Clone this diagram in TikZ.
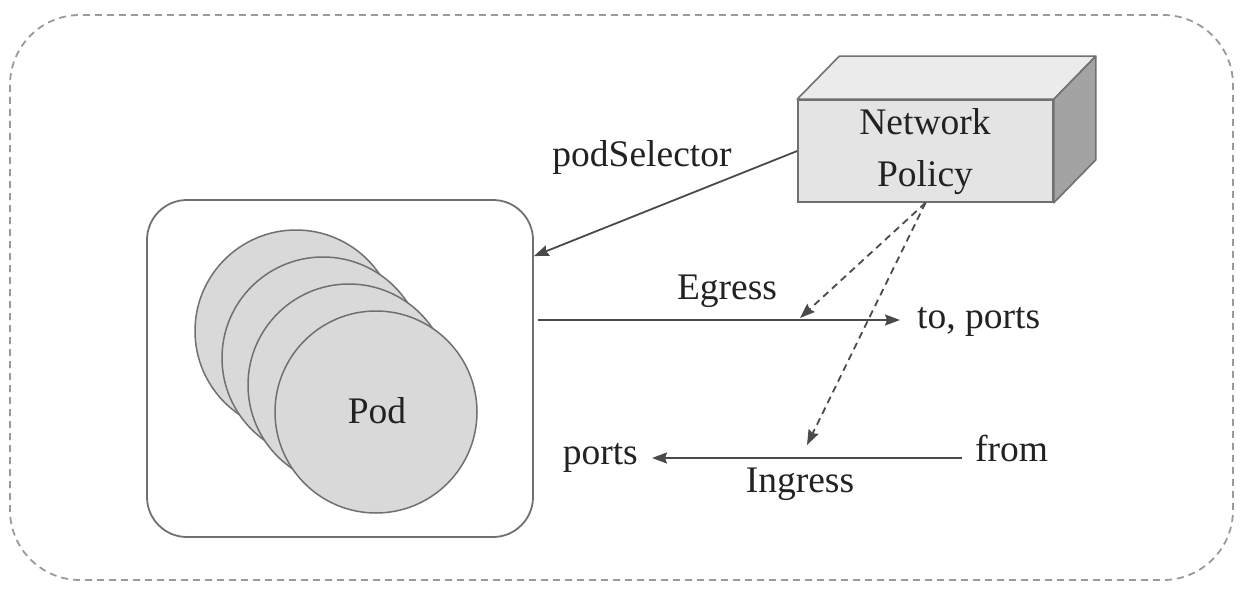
\documentclass[tikz,border=0pt]{standalone}
\usepackage{fontspec}
\setmainfont{Liberation Serif}
\usetikzlibrary{arrows.meta,calc}
\definecolor{linec}{HTML}{4A4A4A}
\definecolor{textc}{HTML}{222222}
\definecolor{podfill}{HTML}{D9D9D9}
\definecolor{podedge}{HTML}{707070}
\definecolor{frontc}{HTML}{E4E4E4}
\definecolor{topc}{HTML}{EBEBEB}
\definecolor{sidec}{HTML}{A3A3A3}
\definecolor{outerc}{HTML}{9A9A9A}
\tikzset{
  lbl/.style={text=textc, inner sep=0pt, font=\fontsize{37.5}{52}\selectfont},
  arr/.style={draw=linec, line width=1.8pt, -{Stealth[length=15pt,width=11pt,inset=2pt]}},
  darr/.style={arr, dash pattern=on 7pt off 5pt},
  podcircle/.style={circle, draw=podedge, fill=podfill, line width=1.5pt, minimum size=202pt, inner sep=0pt},
  facestyle/.style={draw=podedge, line width=1.6pt, line join=round},
}
\begin{document}
\begin{tikzpicture}[x=1pt,y=-1pt]
\useasboundingbox (0,0) rectangle (1244,599);
% outer dashed frame
\draw[outerc, line width=1.8pt, dash pattern=on 7pt off 5pt, rounded corners=70pt] (10,15) rectangle (1233,580);

% pod box
\node[draw=podedge, line width=1.8pt, rounded corners=40pt, minimum width=386pt, minimum height=337pt, inner sep=0pt] (pod) at (340,368.5) {};
\node[podcircle] (c1) at (296,331) {};
\node[podcircle] (c2) at (323,358) {};
\node[podcircle] (c3) at (349,385) {};
\node[podcircle] (c4) at (376,412) {};
\node[lbl] (podtxt) at (377,411) {Pod};

% network policy box
\node[draw=podedge, fill=frontc, line width=1.6pt, minimum width=255pt, minimum height=102pt, inner sep=0pt] (np) at (925.5,151) {};
\fill[topc, facestyle] (np.north west) -- ++(42,-43) -- ($(np.north east)+(42,-43)$) -- (np.north east) -- cycle;
\fill[sidec, facestyle] (np.north east) -- ++(42,-43) -- ($(np.south east)+(42,-43)$) -- (np.south east) -- cycle;
\node[lbl, align=center] (nptxt) at (925,152) {Network\\Policy};

% labels
\node[lbl] (sel) at (642,157) {podSelector};
\node[lbl] (egr) at (727,291) {Egress};
\node[lbl, anchor=west] (toports) at (917,322) {to, ports};
\node[lbl] (ingr) at (800,484) {Ingress};
\node[lbl, anchor=east] (ports) at (638,458) {ports};
\node[lbl, anchor=west] (from) at (975,448) {from};

% connectors
\coordinate (selend) at ($(pod.north east)+(0,57)$);
\draw[arr] (np.west) -- (selend);
\coordinate (egstart) at (538,320);
\coordinate (egend) at (900,320);
\draw[arr] (egstart) -- (egend);
\coordinate (instart) at (962,458);
\coordinate (inend) at (652,458);
\draw[arr] (instart) -- (inend);
\coordinate (d1) at (800,318);
\coordinate (d2) at (807,445);
\draw[darr] (np.south) -- (d1);
\draw[darr] (np.south) -- (d2);
\end{tikzpicture}
\end{document}
